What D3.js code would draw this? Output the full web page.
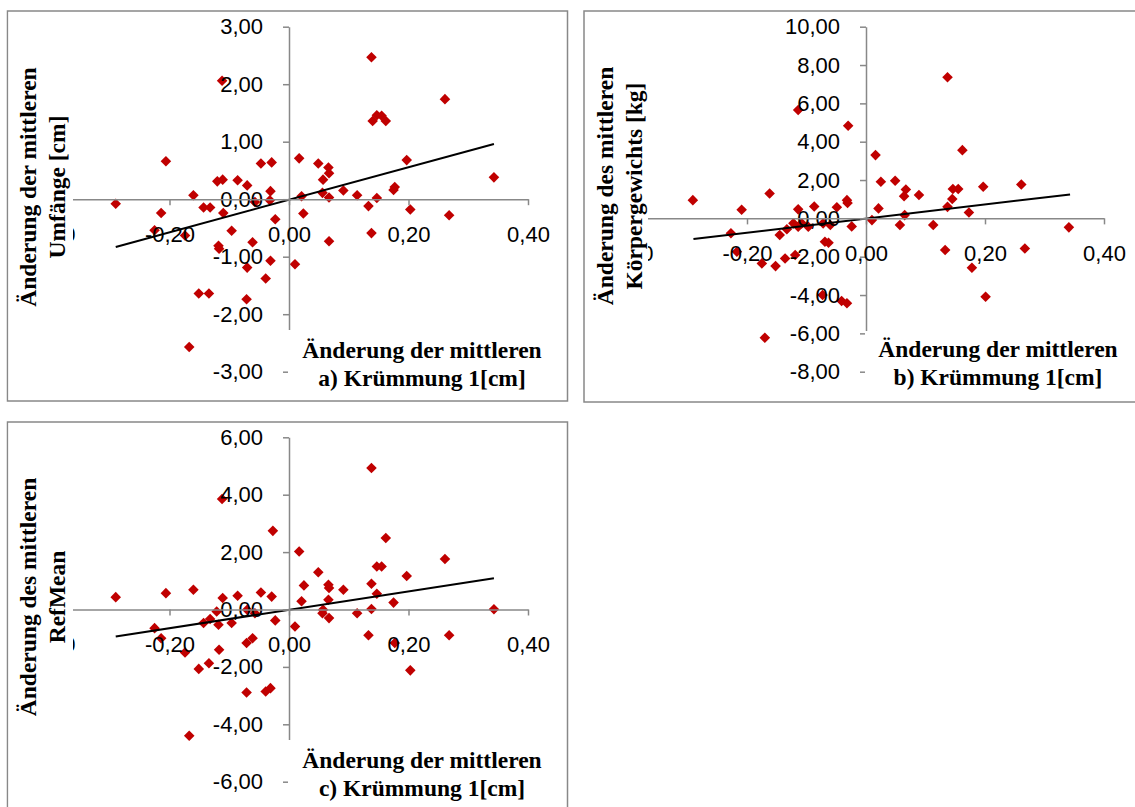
<!DOCTYPE html>
<html>
<head>
<meta charset="utf-8">
<script src="https://cdnjs.cloudflare.com/ajax/libs/d3/7.8.5/d3.min.js"></script>
<style>
    body { margin: 0; background: #fff; }
    .tick text { font-family: "Liberation Sans", Arial, sans-serif; font-size: 22px; fill: #000; }
    .title { font-family: "Liberation Serif", "Times New Roman", serif; font-weight: bold; font-size: 23.5px; fill: #000; }
</style>
</head>
<body>
<svg class="chart"></svg>
<script>
// values: change of mean curvature 1 (x) against three measures

var xTicks = [-0.4, -0.2, 0, 0.2, 0.4];

// a) Umfänge [cm]
var xA = [-0.29, -0.214, -0.206, -0.225, -0.174, -0.167, -0.16, -0.151, -0.143, -0.134,
          -0.132, -0.12, -0.118, -0.117, -0.112, -0.111, -0.11, -0.096, -0.086, -0.071,
          -0.07, -0.07, -0.061, -0.057, -0.047, -0.039, -0.032, -0.031, -0.031, -0.029,
          -0.023, 0.01, 0.017, 0.021, 0.024, 0.049, 0.057, 0.056, 0.066, 0.067,
          0.067, 0.067, 0.091, 0.114, 0.133, 0.138, 0.138, 0.14, 0.147, 0.147,
          0.155, 0.162, 0.175, 0.177, 0.197, 0.203, 0.261, 0.268, 0.343];
var yA = [-0.08, -0.24, 0.66, -0.54, -0.63, -2.57, 0.07, -1.64, -0.145, -1.64,
          -0.145, 0.31, -0.81, -0.86, 2.06, 0.34, -0.24, -0.55, 0.33, -1.74,
          0.24, -1.19, -0.75, -0.05, 0.62, -1.38, -0.02, 0.14, -1.07, 0.64,
          -0.35, -1.13, 0.71, 0.05, -0.25, 0.62, 0.34, 0.11, 0.55, 0.45,
          0.03, -0.73, 0.15, 0.07, -0.12, 2.47, -0.59, 1.36, 1.46, 0.02,
          1.45, 1.36, 0.16, 0.21, 0.68, -0.18, 1.74, -0.28, 0.38];
var yTicksA = [-3, -2, -1, 0, 1, 2, 3];
var trendA = [[-0.29, -0.83], [0.343, 0.96]];

// b) Körpergewichts [kg]
var xB = [-0.291, -0.227, -0.217, -0.209, -0.175, -0.17, -0.162, -0.152, -0.145, -0.136,
          -0.133, -0.122, -0.119, -0.114, -0.114, -0.114, -0.108, -0.097, -0.087, -0.073,
          -0.072, -0.069, -0.063, -0.06, -0.049, -0.041, -0.032, -0.031, -0.032, -0.03,
          -0.024, 0.01, 0.016, 0.021, 0.025, 0.049, 0.057, 0.064, 0.065, 0.067,
          0.089, 0.113, 0.133, 0.137, 0.137, 0.145, 0.146, 0.155, 0.162, 0.173,
          0.178, 0.197, 0.201, 0.261, 0.267, 0.341];
var yB = [0.95, -0.78, -1.74, 0.45, -2.35, -6.23, 1.30, -2.49, -0.87, -2.09,
          -0.57, -0.26, -1.91, 5.65, 0.47, -0.44, -0.26, -0.44, 0.62, -4.0,
          -0.26, -1.22, -1.27, -0.35, 0.58, -4.31, 0.95, 0.80, -4.43, 4.83,
          -0.42, -0.09, 3.30, 0.52, 1.91, 1.96, -0.35, 1.16, 0.17, 1.51,
          1.22, -0.35, -1.65, 7.36, 0.60, 1.01, 1.53, 1.53, 3.56, 0.31,
          -2.58, 1.65, -4.09, 1.77, -1.57, -0.47];
var yTicksB = [-8, -6, -4, -2, 0, 2, 4, 6, 8, 10];
var trendB = [[-0.29, -1.08], [0.343, 1.25]];

// c) RefMean
var xC = [-0.29, -0.225, -0.214, -0.206, -0.174, -0.167, -0.16, -0.151, -0.143, -0.134,
          -0.132, -0.121, -0.118, -0.117, -0.112, -0.111, -0.096, -0.086, -0.071, -0.071,
          -0.07, -0.061, -0.057, -0.047, -0.039, -0.031, -0.029, -0.027, -0.023, 0.01,
          0.017, 0.021, 0.025, 0.049, 0.056, 0.057, 0.066, 0.066, 0.067, 0.067,
          0.091, 0.114, 0.133, 0.138, 0.138, 0.138, 0.147, 0.147, 0.155, 0.162,
          0.175, 0.177, 0.197, 0.203, 0.261, 0.268, 0.343];
var yC = [0.43, -0.65, -1.0, 0.57, -1.5, -4.4, 0.69, -2.07, -0.47, -1.87,
          -0.33, -0.07, -0.53, -1.4, 3.85, 0.40, -0.47, 0.48, -2.89, -1.17,
          -0.01, -1.0, -0.13, 0.59, -2.86, -2.74, 0.45, 2.74, -0.38, -0.59,
          2.02, 0.29, 0.84, 1.30, -0.13, -0.01, 0.86, 0.34, 0.75, -0.3,
          0.69, -0.13, -0.9, 4.93, 0.9, 0.02, 1.5, 0.55, 1.5, 2.49,
          0.24, -1.17, 1.17, -2.12, 1.76, -0.9, 0.01];
var yTicksC = [-6, -4, -2, 0, 2, 4, 6];
var trendC = [[-0.29, -0.94], [0.343, 1.09]];

function show() {
    'use strict';

    var width = 1135, height = 807;
    var svg = d3.select(".chart").attr("width", width).attr("height", height);

    // german number format: 0,20 and -2,00
    var fmt = d3.formatLocale({ decimal: ",", thousands: ".", grouping: [3],
                                currency: ["", ""], minus: "-" }).format(".2f");

    var axisColor = "#888888";
    var red = "#c00000";

    // layout of the three chart boxes
    var panels = [
        { frame: [7.5, 11, 560, 390], xRange: [50, 528], yRange: [371.7, 26.7],
          yTicks: yTicksA, xs: xA, ys: yA, trend: trendA,
          yTitle: ["Änderung der mittleren", "Umfänge [cm]"], yTitleAt: [36, 187],
          xTitle: ["Änderung der mittleren", "a) Krümmung 1[cm]"], xTitleAt: [422, 358],
          yBox: [8.5, 12, 64.5, 388], xBox: [288, 330, 268, 70] },
        { frame: [584, 11, 560, 391], xRange: [628, 1104], yRange: [371.7, 26.7],
          yTicks: yTicksB, xs: xB, ys: yB, trend: trendB,
          yTitle: ["Änderung des mittleren", "Körpergewichts [kg]"], yTitleAt: [613, 186],
          xTitle: ["Änderung der mittleren", "b) Krümmung 1[cm]"], xTitleAt: [998, 357],
          yBox: [585, 12, 63, 389], xBox: [865, 331, 265, 70] },
        { frame: [7.5, 422, 560, 400], xRange: [50, 528], yRange: [781.7, 437.3],
          yTicks: yTicksC, xs: xC, ys: yC, trend: trendC,
          yTitle: ["Änderung des mittleren", "RefMean"], yTitleAt: [36, 597],
          xTitle: ["Änderung der mittleren", "c) Krümmung 1[cm]"], xTitleAt: [422, 768],
          yBox: [8.5, 423, 64.5, 390], xBox: [288, 740, 268, 70] }
    ];

    panels.forEach(function (p) {
        var g = svg.append("g");

        // outer frame of the chart
        g.append("rect")
            .attr("x", p.frame[0]).attr("y", p.frame[1])
            .attr("width", p.frame[2]).attr("height", p.frame[3])
            .attr("fill", "#fff")
            .attr("stroke", axisColor).attr("stroke-width", 1.5);

        var yT = p.yTicks;
        var x = d3.scaleLinear().domain([xTicks[0], xTicks[xTicks.length - 1]]).range(p.xRange);
        var y = d3.scaleLinear().domain([yT[0], yT[yT.length - 1]]).range(p.yRange);

        // markers
        var diamond = d3.symbol().type(d3.symbolSquare).size(56);
        g.append("g").selectAll("path")
            .data(d3.range(p.xs.length))
            .enter().append("path")
            .attr("d", diamond)
            .attr("fill", red)
            .attr("transform", function (i) {
                return "translate(" + x(p.xs[i]) + "," + y(p.ys[i]) + ") rotate(45)";
            });

        // linear trend line
        g.append("path")
            .datum(p.trend)
            .attr("d", d3.line().x(d => x(d[0])).y(d => y(d[1])))
            .attr("fill", "none")
            .attr("stroke", "#000")
            .attr("stroke-width", 2);

        // axes cross at zero
        var yAxis = d3.axisLeft(y).tickValues(yT).tickFormat(fmt)
            .tickSize(6).tickSizeOuter(0).tickPadding(20);
        var xAxis = d3.axisBottom(x).tickValues(xTicks).tickFormat(fmt)
            .tickSize(6).tickSizeOuter(0);

        var gy = g.append("g")
            .attr("transform", "translate(" + x(0) + ",0)")
            .call(yAxis);
        var gx = g.append("g")
            .attr("transform", "translate(0," + y(0) + ")")
            .call(xAxis);

        [gx, gy].forEach(function (a) {
            a.select(".domain").attr("stroke", axisColor).attr("stroke-width", 1.5);
            a.selectAll(".tick line").attr("stroke", axisColor).attr("stroke-width", 1.5);
            a.attr("font-family", null).attr("font-size", null);
        });
        gx.selectAll(".tick text").attr("y", 35).attr("dy", "0.35em");

        // white boxes behind the axis titles (they hide part of the axes, as in the original)
        g.append("rect")
            .attr("x", p.yBox[0]).attr("y", p.yBox[1])
            .attr("width", p.yBox[2]).attr("height", p.yBox[3])
            .attr("fill", "#fff");
        g.append("rect")
            .attr("x", p.xBox[0]).attr("y", p.xBox[1])
            .attr("width", p.xBox[2]).attr("height", p.xBox[3])
            .attr("fill", "#fff");

        // y title, rotated
        var yt = g.append("text")
            .attr("class", "title")
            .attr("text-anchor", "middle")
            .attr("transform", "translate(" + p.yTitleAt[0] + "," + p.yTitleAt[1] + ") rotate(-90)");
        p.yTitle.forEach(function (s, i) {
            yt.append("tspan").attr("x", 0).attr("y", i * 29).text(s);
        });

        // x title, two lines
        var xt = g.append("text")
            .attr("class", "title")
            .attr("text-anchor", "middle");
        p.xTitle.forEach(function (s, i) {
            xt.append("tspan").attr("x", p.xTitleAt[0]).attr("y", p.xTitleAt[1] + i * 27.5).text(s);
        });
    });
}

show();
</script>
</body>
</html>
